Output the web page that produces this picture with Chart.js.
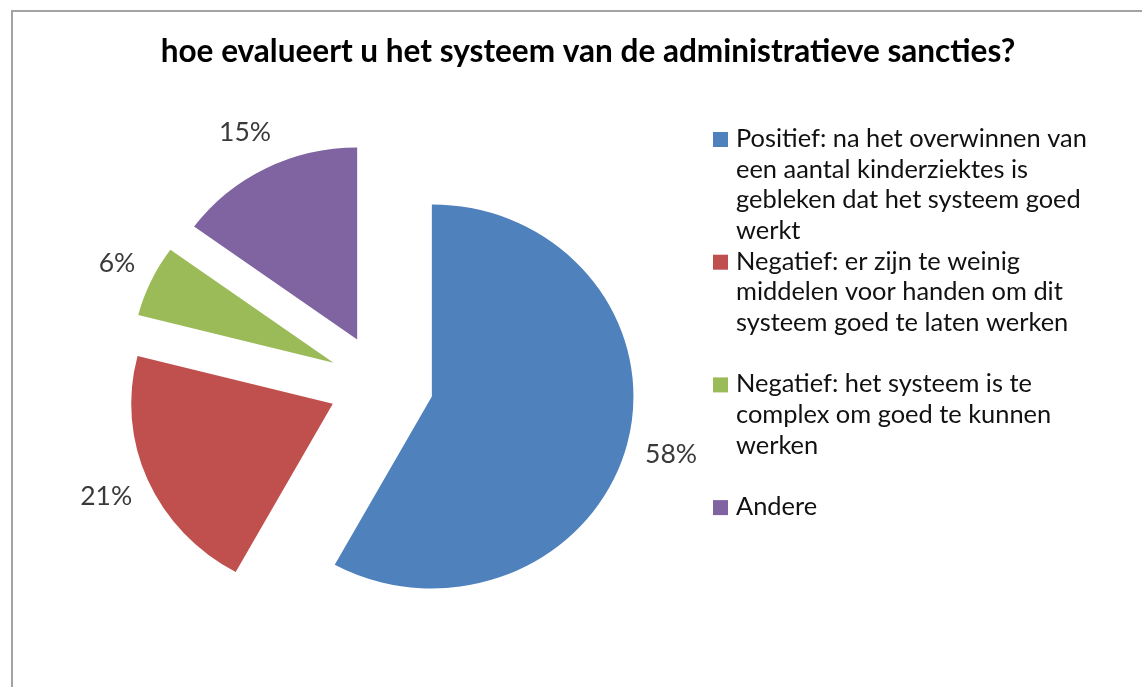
<!DOCTYPE html>
<html>
<head>
<meta charset="utf-8">
<script src="https://cdn.jsdelivr.net/npm/chart.js@4.4.1/dist/chart.umd.min.js"></script>
<style>
  html, body { margin: 0; padding: 0; background: #fff; }
  #wrap { position: relative; width: 1142px; height: 687px; }
</style>
</head>
<body>
<div id="wrap"><canvas id="chart" width="1142" height="687"></canvas></div>
<script>
const chartTitle = "hoe evalueert u het systeem van de administratieve sancties?";
// legend text, one entry per slice, already broken into lines like the original
const categories = [
    ["Positief: na het overwinnen van", "een aantal kinderziektes is", "gebleken dat het systeem goed", "werkt"],
    ["Negatief: er zijn te weinig", "middelen voor handen om dit", "systeem goed te laten werken"],
    ["Negatief: het systeem is te", "complex om goed te kunnen", "werken"],
    ["Andere"],
];
const shares = [58, 21, 6, 15];
const percentLabels = ["58%", "21%", "6%", "15%"];
const sliceColors = ["#4F81BD", "#C0504D", "#9BBB59", "#8064A2"];

const FONT = "Lato, 'Open Sans', sans-serif";

function fitSize(ctx, text, weight, target) {
    ctx.font = weight + " 100px " + FONT;
    return 100 * target / ctx.measureText(text).width;
}

// pull every slice away from the centre (Excel style exploded pie),
// the original picture is a little wider than tall so stretch x a bit
let explodePie = {
    id: 'explodePie',
    beforeDatasetDraw: (chart, args, options) => {
        const {ctx} = chart;
        args.meta.data.forEach((arc) => {
            const mid = (arc.startAngle + arc.endAngle) / 2;
            ctx.save();
            ctx.translate(arc.x, arc.y);
            ctx.scale(options.stretchX, 1);
            ctx.translate(-arc.x, -arc.y);
            ctx.translate(Math.cos(mid) * options.distance, Math.sin(mid) * options.distance);
            arc.draw(ctx);
            ctx.restore();
        });
        return false;
    }
};

let decorations = {
    id: 'decorations',
    afterDraw: (chart, args, options) => {
        const {ctx} = chart;
        ctx.save();

        // frame (top and left edge only are visible in the original)
        ctx.strokeStyle = "#a3a3a3";
        ctx.lineWidth = 2;
        ctx.beginPath();
        ctx.moveTo(12, 687);
        ctx.lineTo(12, 11);
        ctx.lineTo(1142, 11);
        ctx.stroke();

        // title
        const titleSize = fitSize(ctx, chartTitle, "bold", 855);
        ctx.font = "bold " + titleSize + "px " + FONT;
        ctx.fillStyle = "#000";
        ctx.textAlign = "center";
        ctx.textBaseline = "alphabetic";
        ctx.fillText(chartTitle, 588, 62);

        // percentage labels just outside each slice, along its mid ray
        const labelSize = fitSize(ctx, "58%", "normal", 52);
        ctx.font = labelSize + "px " + FONT;
        ctx.fillStyle = "#3a3a3a";
        ctx.textAlign = "center";
        ctx.textBaseline = "middle";
        const meta = chart.getDatasetMeta(0);
        meta.data.forEach((arc, i) => {
            const mid = (arc.startAngle + arc.endAngle) / 2;
            const dx = Math.cos(mid), dy = Math.sin(mid);
            const vx = arc.x + dx * options.explode * options.stretchX;
            const vy = arc.y + dy * options.explode;
            const d = arc.outerRadius + options.gap;
            const w = ctx.measureText(percentLabels[i]).width;
            const h = 22;
            const x = vx + dx * d + dx * w / 2;
            const y = vy + dy * d + dy * h / 2;
            ctx.fillText(percentLabels[i], x, y);
        });

        // legend
        const legendSize = fitSize(ctx, categories[0][0], "normal", 351);
        ctx.font = legendSize + "px " + FONT;
        ctx.textAlign = "left";
        ctx.textBaseline = "alphabetic";
        for (let i = 0; i < categories.length; i++) {
            const base = 147 + i * 122.7;
            ctx.fillStyle = sliceColors[i];
            ctx.fillRect(713, base - 15, 15, 15);
            ctx.fillStyle = "#111";
            categories[i].forEach((line, j) => {
                ctx.fillText(line, 736, base + j * 30.7);
            });
        }
        ctx.restore();
    }
};

new Chart(document.getElementById("chart"), {
    type: "pie",
    data: {
        labels: categories.map((c) => c.join(" ")),
        datasets: [{
            data: shares,
            backgroundColor: sliceColors,
            borderWidth: 0,
        }],
    },
    options: {
        responsive: false,
        animation: false,
        radius: 192,
        layout: {
            padding: {left: 0, right: 380, top: 81, bottom: 0},
        },
        plugins: {
            legend: {display: false},
            tooltip: {enabled: false},
            explodePie: {distance: 50, stretchX: 1.05},
            decorations: {explode: 50, stretchX: 1.05, gap: 29},
        },
    },
    plugins: [explodePie, decorations],
});
</script>
</body>
</html>
